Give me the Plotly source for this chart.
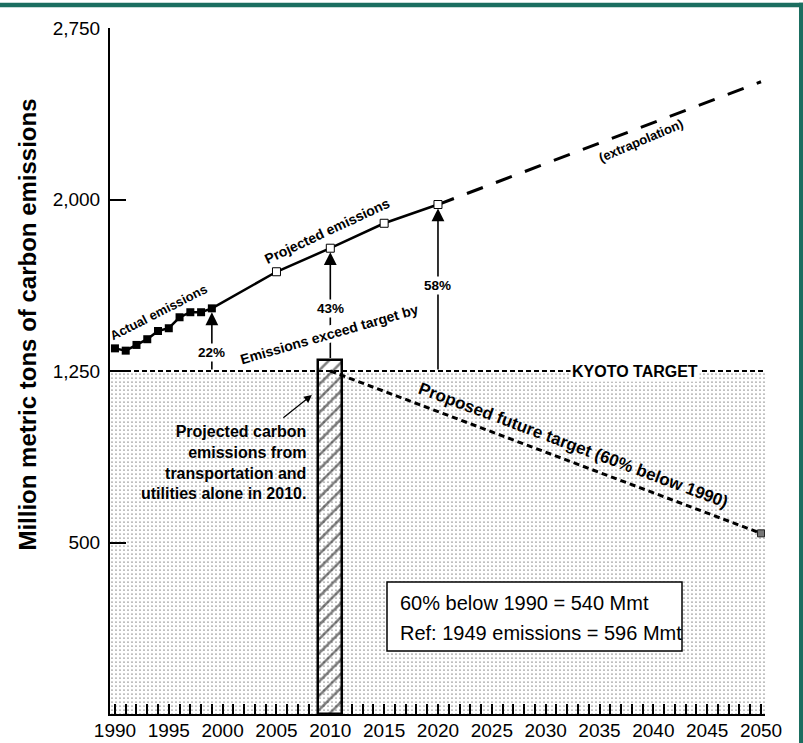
import plotly.graph_objects as go

# ---------------- data ----------------
actual_years = [1990, 1991, 1992, 1993, 1994, 1995, 1996, 1997, 1998, 1999]
actual_values = [1349, 1339, 1364, 1389, 1425, 1437, 1485, 1507, 1507, 1524]
projected_years = [2005, 2010, 2015, 2020]
projected_values = [1684, 1787, 1896, 1978]
extrap_years = [2020, 2050]
extrap_values = [1978, 2515]
kyoto_target = 1250
proposed_years = [2010, 2050]
proposed_values = [1250, 540]
bar_year = [2010]
bar_value = [1300]
pct_years = [1999, 2010, 2020]
pct_labels = ["22%", "43%", "58%"]
x_ticks = list(range(1990, 2051, 5))
y_ticks = [500, 1250, 2000, 2750]
box_lines = ["60% below 1990 = 540 Mmt", "Ref: 1949 emissions = 596 Mmt"]

X_RANGE = [1989.54, 2050.37]
Y_RANGE = [-250, 2750]
FONT = "Arial, Liberation Sans, sans-serif"
TEAL = "#1b6e60"

fig = go.Figure()

# stippled area below the Kyoto target
fig.add_trace(go.Scatter(x=X_RANGE, y=[Y_RANGE[0]] * 2, mode="lines",
                         line=dict(width=0), hoverinfo="skip", showlegend=False))
fig.add_trace(go.Scatter(x=X_RANGE, y=[kyoto_target] * 2, mode="lines",
                         line=dict(width=0), fill="tonexty",
                         fillcolor="rgba(0,0,0,0)",
                         fillpattern=dict(shape=".", fgcolor="#111111",
                                          bgcolor="rgba(0,0,0,0)", size=4,
                                          solidity=0.07, fillmode="replace"),
                         hoverinfo="skip", showlegend=False))

# Kyoto target line
fig.add_trace(go.Scatter(x=X_RANGE, y=[kyoto_target] * 2, mode="lines",
                         line=dict(color="black", width=2, dash="5px,3px"),
                         showlegend=False))

# proposed future target line
fig.add_trace(go.Scatter(x=proposed_years, y=proposed_values, mode="lines",
                         line=dict(color="black", width=3, dash="6px,4px"),
                         showlegend=False))

# hatched bar (transportation + utilities, 2010)
fig.add_trace(go.Bar(x=bar_year, y=[v - Y_RANGE[0] for v in bar_value],
                     base=[Y_RANGE[0]] * len(bar_value), width=2.2,
                     marker=dict(color="white",
                                 line=dict(color="black", width=2.5),
                                 pattern=dict(shape="/", fgcolor="black",
                                              bgcolor="white", size=10,
                                              solidity=0.25)),
                     showlegend=False))

# actual emissions
fig.add_trace(go.Scatter(x=actual_years, y=actual_values, mode="lines+markers",
                         line=dict(color="black", width=2.5),
                         marker=dict(symbol="square", size=8, color="black"),
                         showlegend=False))

# projected emissions (connected to last actual point)
fig.add_trace(go.Scatter(x=[actual_years[-1]] + projected_years,
                         y=[actual_values[-1]] + projected_values, mode="lines",
                         line=dict(color="black", width=2.5), showlegend=False))

# extrapolation
fig.add_trace(go.Scatter(x=extrap_years, y=extrap_values, mode="lines",
                         line=dict(color="black", width=3, dash="17px,14px"),
                         showlegend=False))

fig.add_trace(go.Scatter(x=projected_years, y=projected_values, mode="markers",
                         marker=dict(symbol="square", size=8, color="white",
                                     line=dict(color="black", width=1)),
                         showlegend=False))

# 2050 target point
fig.add_trace(go.Scatter(x=proposed_years[-1:], y=proposed_values[-1:], mode="markers",
                         marker=dict(symbol="square", size=7, color="#777777",
                                     line=dict(color="#222222", width=1)),
                         showlegend=False))

annotations = []

def txt(x, y, text, size, angle=0, bold=True, **kw):
    t = f"<b>{text}</b>" if bold else text
    d = dict(x=x, y=y, xref="x", yref="y", text=t, showarrow=False,
             textangle=angle, font=dict(family=FONT, size=size, color="black"))
    d.update(kw)
    annotations.append(d)

# exceedance arrows
tails = [kyoto_target, bar_value[0], kyoto_target]
heads = [actual_values[-1], projected_values[1], projected_values[-1]]
for yr, t0, h in zip(pct_years, tails, heads):
    annotations.append(dict(x=yr, y=h, ax=yr, ay=t0, xref="x", yref="y",
                            axref="x", ayref="y", text="", showarrow=True,
                            arrowhead=2, arrowsize=1.6, arrowwidth=1.6,
                            arrowcolor="black", standoff=4))

pct_pos = [(1999.0, 1333), (2010.0, 1525), (2020.0, 1626)]
for (px_, py_), lab in zip(pct_pos, pct_labels):
    txt(px_, py_, lab, 13.5, bgcolor="white", borderpad=1)

txt(1994.0, 1508, "Actual emissions", 13, angle=-27)
txt(2009.68, 1862, "Projected emissions", 14, angle=-25)
txt(2038.9, 2256, "(extrapolation)", 13, angle=-23)
txt(2009.96, 1412, "Emissions exceed target by", 14, angle=-16,
    bgcolor="white", borderpad=0)
txt(2038.3, kyoto_target, "KYOTO TARGET", 16, bgcolor="white", borderpad=1)
txt(2032.6, 926, "Proposed future target (60% below 1990)", 17, angle=20.5)
txt(2007.92, 850,
    "Projected carbon<br>emissions from<br>transportation and<br>utilities alone in 2010.",
    16, xanchor="right", align="right")

# small arrow pointing to bar
annotations.append(dict(x=2008.29, y=1145, ax=2005.5, ay=1040, xref="x", yref="y",
                        axref="x", ayref="y", text="", showarrow=True,
                        arrowhead=2, arrowsize=1.3, arrowwidth=1.2,
                        arrowcolor="black"))

# info box text
annotations.append(dict(x=0.4397, y=0.1618, xref="paper", yref="paper",
                        text=box_lines[0], showarrow=False, xanchor="left",
                        yanchor="middle", font=dict(family=FONT, size=20, color="black")))
annotations.append(dict(x=0.4397, y=0.1181, xref="paper", yref="paper",
                        text=box_lines[1], showarrow=False, xanchor="left",
                        yanchor="middle", font=dict(family=FONT, size=20, color="black")))

# y axis title
annotations.append(dict(x=-0.1496, y=0.567, xref="paper", yref="paper",
                        text="<b>Million metric tons of carbon emissions</b>",
                        textangle=-90, showarrow=False,
                        font=dict(family=FONT, size=24, color="black")))

shapes = [
    dict(type="rect", xref="paper", yref="paper", x0=0.4229, x1=0.8733,
         y0=0.0918, y1=0.1924, line=dict(color="black", width=1.5),
         fillcolor="white", layer="above"),
    dict(type="rect", xref="paper", yref="paper", x0=-0.17, x1=1.06,
         y0=1.0302, y1=1.0369, line=dict(width=0), fillcolor=TEAL),
    dict(type="rect", xref="paper", yref="paper", x0=1.0519, x1=1.06,
         y0=-0.05, y1=1.0369, line=dict(width=0), fillcolor=TEAL),
]

fig.update_layout(
    width=803, height=743,
    margin=dict(l=110, r=38, t=28, b=29, pad=0),
    paper_bgcolor="white", plot_bgcolor="white",
    font=dict(family=FONT, color="black"),
    showlegend=False, bargap=0,
    annotations=annotations, shapes=shapes,
    xaxis=dict(range=X_RANGE, tickmode="array", tickvals=x_ticks,
               ticktext=[str(v) for v in x_ticks],
               ticks="inside", ticklen=10, tickwidth=1.5, tickcolor="black",
               minor=dict(dtick=1, tick0=1990, ticks="inside", ticklen=10,
                          tickwidth=1.5, tickcolor="black", showgrid=False),
               showline=True, linecolor="black", linewidth=2,
               showgrid=False, zeroline=False, automargin=False,
               tickfont=dict(family=FONT, size=19, color="black"),
               ticklabelstandoff=-2, layer="below traces", fixedrange=True),
    yaxis=dict(range=Y_RANGE, tickmode="array", tickvals=y_ticks,
               tickformat=",", ticks="inside", ticklen=16, tickwidth=1.5,
               tickcolor="black", showline=True, linecolor="black", linewidth=2,
               showgrid=False, zeroline=False, automargin=False,
               tickfont=dict(family=FONT, size=19, color="black"),
               ticklabelstandoff=4, layer="below traces", fixedrange=True),
)

fig.write_html("out.html", config={"displayModeBar": False},
               post_script="document.body.style.margin='0';"
                           "document.body.style.overflow='hidden';")
